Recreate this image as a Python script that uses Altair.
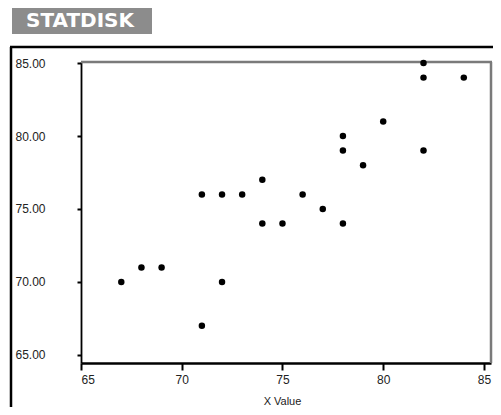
import altair as alt
import pandas as pd

# Data
x_values = [67, 68, 69, 71, 71, 72, 72, 73, 74, 74, 75, 76, 77, 78, 78, 78, 79, 80, 82, 82, 82, 84]
y_values = [70, 71, 71, 67, 76, 76, 70, 76, 77, 74, 74, 76, 75, 80, 79, 74, 78, 81, 85, 84, 79, 84]
x_ticks = [65, 70, 75, 80, 85]
y_ticks = [65, 70, 75, 80, 85]

df = pd.DataFrame({"x": x_values, "y": y_values})
one = pd.DataFrame({"a": [0]})

FONT = "Liberation Sans"

points = alt.Chart(df).mark_circle(size=42, color="black", opacity=1).encode(
    x=alt.X(
        "x:Q",
        scale=alt.Scale(domain=[65, 85.35], nice=False, zero=False),
        axis=alt.Axis(
            values=x_ticks, format="d", grid=False, tickSize=7, tickWidth=2,
            tickColor="black", domainColor="black", domainWidth=2.5,
            labelFont=FONT, labelFontSize=12, labelColor="#222",
            labelPadding=4, title="X Value", titleFont=FONT, titleFontSize=11,
            titleFontWeight="normal", titleColor="#222", titlePadding=10,
            titleX=201,
        ),
    ),
    y=alt.Y(
        "y:Q",
        scale=alt.Scale(domain=[64.45, 85.07], nice=False, zero=False),
        axis=alt.Axis(
            values=y_ticks, format=".2f", grid=False, tickSize=4, tickWidth=2,
            tickColor="black", domainColor="black", domainWidth=1.8,
            labelFont=FONT, labelFontSize=12, labelColor="#222",
            labelAlign="right", labelPadding=32, title=None,
        ),
    ),
)

# Plot frame: gray top and right edges
plot_top = alt.Chart(one).mark_rule(color="#7a7a7a", strokeWidth=2.5).encode(
    x=alt.value(0), x2=alt.value(411), y=alt.value(0)
)
plot_right = alt.Chart(one).mark_rule(color="#7a7a7a", strokeWidth=2.5).encode(
    x=alt.value(410), y=alt.value(0), y2=alt.value(301)
)

# Outer frame (left and top edges)
frame_left = alt.Chart(one).mark_rule(color="black", strokeWidth=2.5).encode(
    x=alt.value(-70), y=alt.value(-15), y2=alt.value(400)
)
frame_top = alt.Chart(one).mark_rule(color="black", strokeWidth=2.5).encode(
    x=alt.value(-71), x2=alt.value(430), y=alt.value(-15)
)

# Header label
header_box = alt.Chart(one).mark_rect(color="#8c8c8c").encode(
    x=alt.value(-69), x2=alt.value(71), y=alt.value(-54), y2=alt.value(-28)
)
header_text = alt.Chart(one).mark_text(
    text="STATDISK", color="white", font="DejaVu Sans", fontSize=20,
    fontWeight="bold", align="center", baseline="middle",
).encode(x=alt.value(-1), y=alt.value(-41))

chart = alt.layer(
    frame_left, frame_top, header_box, header_text, plot_top, plot_right, points
).properties(
    width=410,
    height=301,
    padding={"left": 73, "top": 54, "right": 2, "bottom": 44},
    autosize=alt.AutoSizeParams(type="none"),
).configure_view(stroke=None).configure(background="white")

chart.save("out.html", embed_options={"renderer": "svg", "actions": False})
